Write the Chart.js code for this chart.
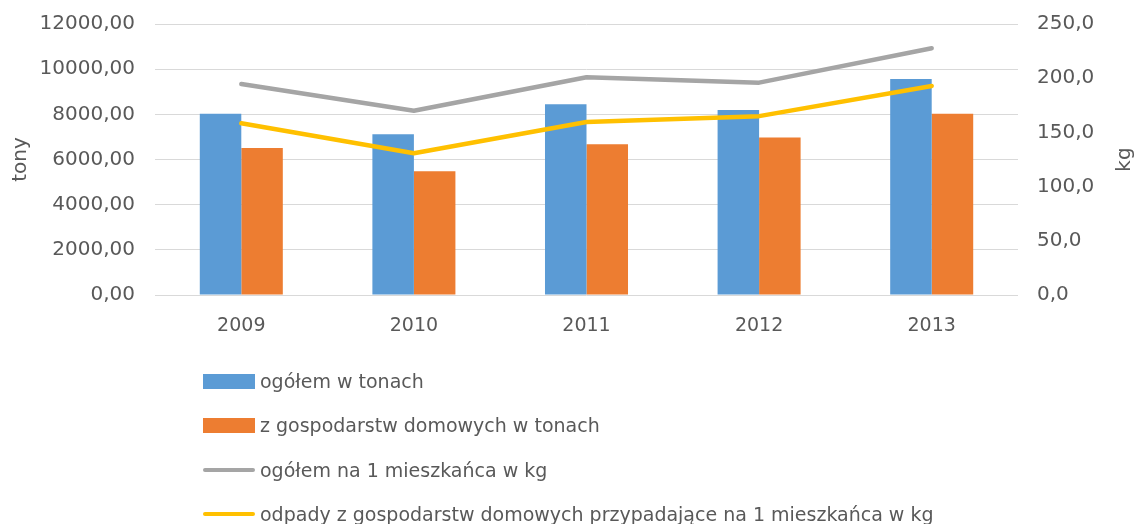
<!DOCTYPE html>
<html>
<head>
<meta charset="utf-8">
<script src="https://cdn.jsdelivr.net/npm/chart.js@4"></script>
<style>
  html, body { margin: 0; padding: 0; background: #ffffff; }
  #wrap { position: relative; width: 1135px; height: 524px; overflow: hidden; }
  #c { position: absolute; left: 0; top: 0; }
  #legend { position: absolute; left: 203px; top: 0; font-family: "DejaVu Sans", sans-serif; font-size: 19px; color: #595959; }
  .item { position: absolute; left: 0; height: 24px; white-space: nowrap; display: flex; align-items: center; }
  .sw { width: 52px; margin-right: 5px; }
  .txt { line-height: 24px; }
</style>
</head>
<body>
<div id="wrap">
  <canvas id="c" width="1135" height="524"></canvas>
  <div id="legend"></div>
</div>
<script>
const categories = ['2009', '2010', '2011', '2012', '2013'];
const ogolemTony = [8030, 7120, 8450, 8190, 9570];
const domoweTony = [6510, 5480, 6670, 6970, 8030];
const ogolemKg = [194.6, 170.0, 200.8, 195.9, 227.6];
const domoweKg = [158.4, 130.7, 159.6, 165.0, 192.8];
const seriesNames = [
  'ogółem w tonach',
  'z gospodarstw domowych w tonach',
  'ogółem na 1 mieszkańca w kg',
  'odpady z gospodarstw domowych przypadające na 1 mieszkańca w kg'
];
const leftTicks = { min: 0, max: 12000, step: 2000 };
const rightTicks = { min: 0, max: 250, step: 50 };

const TXT = '#595959';
const xFont = { family: 'DejaVu Sans', size: 19 };
const yFont = { family: 'DejaVu Sans', size: 20 };

const rightTitle = {
  id: 'rightTitle',
  afterDraw(chart) {
    const ctx = chart.ctx;
    const a = chart.chartArea;
    ctx.save();
    ctx.translate(1125, (a.top + a.bottom) / 2);
    ctx.rotate(-Math.PI / 2);
    ctx.fillStyle = TXT;
    ctx.font = '20px "DejaVu Sans"';
    ctx.textAlign = 'center';
    ctx.textBaseline = 'middle';
    ctx.fillText('kg', 0, 0);
    ctx.restore();
  }
};

const chart = new Chart(document.getElementById('c'), {
  type: 'bar',
  data: {
    labels: categories,
    datasets: [
      { type: 'bar', label: seriesNames[0], data: ogolemTony, backgroundColor: '#5b9bd5', yAxisID: 'y', order: 2,
        barPercentage: 1.0, categoryPercentage: 0.481 },
      { type: 'bar', label: seriesNames[1], data: domoweTony, backgroundColor: '#ed7d31', yAxisID: 'y', order: 2,
        barPercentage: 1.0, categoryPercentage: 0.481 },
      { type: 'line', label: seriesNames[2], data: ogolemKg, borderColor: '#a5a5a5', backgroundColor: '#a5a5a5', yAxisID: 'y1', order: 1,
        borderWidth: 4.5, pointRadius: 0, tension: 0, borderCapStyle: 'round', borderJoinStyle: 'round' },
      { type: 'line', label: seriesNames[3], data: domoweKg, borderColor: '#ffc000', backgroundColor: '#ffc000', yAxisID: 'y1', order: 0,
        borderWidth: 4.5, pointRadius: 0, tension: 0, borderCapStyle: 'round', borderJoinStyle: 'round' }
    ]
  },
  options: {
    responsive: false,
    animation: false,
    devicePixelRatio: 1,
    layout: { padding: { left: 0, right: 0, top: 24, bottom: 184 } },
    plugins: { legend: { display: false }, tooltip: { enabled: false } },
    scales: {
      x: {
        grid: { display: false },
        border: { display: false },
        ticks: { color: TXT, font: xFont, padding: 12, maxRotation: 0 },
        afterFit(s) { s.height = 45; s.paddingLeft = 0; s.paddingRight = 0; }
      },
      y: {
        position: 'left',
        min: leftTicks.min, max: leftTicks.max,
        ticks: { stepSize: leftTicks.step, color: TXT, font: yFont, padding: 20,
          callback: v => v.toFixed(2).replace('.', ',') },
        grid: { color: '#d9d9d9', lineWidth: 1, drawTicks: false },
        border: { display: false },
        title: { display: true, text: 'tony', color: TXT, font: { family: 'DejaVu Sans', size: 20 }, padding: { top: 9, bottom: 0 } },
        afterFit(s) { s.width = 155; s.paddingTop = 0; s.paddingBottom = 0; }
      },
      y1: {
        position: 'right',
        min: rightTicks.min, max: rightTicks.max,
        ticks: { stepSize: rightTicks.step, color: TXT, font: yFont, padding: 19,
          callback: v => v.toFixed(1).replace('.', ',') },
        grid: { drawOnChartArea: false, drawTicks: false },
        border: { display: false },
        afterFit(s) { s.width = 117; s.paddingTop = 0; s.paddingBottom = 0; }
      }
    }
  },
  plugins: [rightTitle]
});

// HTML legend built from the chart's datasets
const legendEl = document.getElementById('legend');
const rowCenters = [381, 425, 470, 514];
chart.data.datasets.forEach((ds, i) => {
  const item = document.createElement('div');
  item.className = 'item';
  item.style.top = (rowCenters[i] - 12) + 'px';
  const sw = document.createElement('div');
  sw.className = 'sw';
  if (ds.type === 'bar') {
    sw.style.height = '15px';
    sw.style.background = ds.backgroundColor;
  } else {
    sw.style.height = '4px';
    sw.style.borderRadius = '2px';
    sw.style.background = ds.borderColor;
  }
  const t = document.createElement('span');
  t.className = 'txt';
  t.textContent = ds.label;
  item.appendChild(sw);
  item.appendChild(t);
  legendEl.appendChild(item);
});
</script>
</body>
</html>
